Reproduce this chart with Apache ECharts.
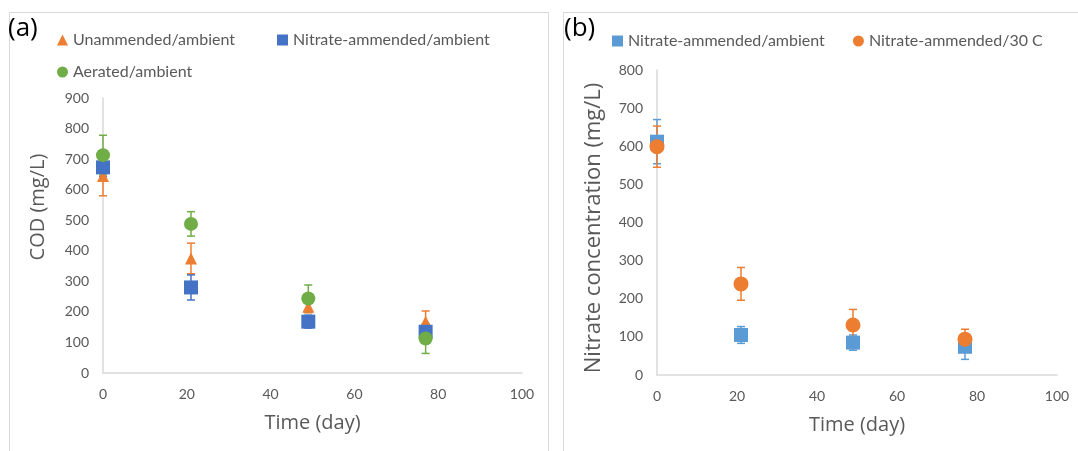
<!DOCTYPE html>
<html>
<head>
<meta charset="utf-8">
<script src="https://cdn.jsdelivr.net/npm/echarts@6/dist/echarts.min.js"></script>
<style>
  html, body { margin: 0; padding: 0; background: #fff; }
  #main { width: 1078px; height: 451px; }
</style>
</head>
<body>
<div id="main"></div>
<script>
// sampling days
const days = [0, 21, 49, 77]
const xTicks = [0, 20, 40, 60, 80, 100]

// (a) COD (mg/L)
const codUnam = [645, 375, 217, 168]
const codUnamErr = [65, 50, 20, 35]
const codNitrate = [673, 280, 168, 135]
const codNitrateErr = [30, 41, 21, 15]
const codAerated = [713, 488, 244, 113]
const codAeratedErr = [65, 40, 44, 49]

// (b) Nitrate concentration (mg/L)
const no3Ambient = [612, 105, 85, 74]
const no3AmbientErr = [58, 22, 20, 33]
const no3Warm = [599, 239, 131, 94]
const no3WarmErr = [54, 43, 41, 26]

const font = 'Lato'
const titleFont = 'Open Sans'
const labelColor = '#595959'
const axisColor = '#d9d9d9'

function pts (vals) {
  return days.map((d, i) => [d, vals[i]])
}
function errPts (vals, errs) {
  return days.map((d, i) => [d, vals[i] - errs[i], vals[i] + errs[i]])
}

// 误差线
function errSeries (name, vals, errs, color, idx) {
  return {
    name: name + ' err',
    type: 'custom',
    xAxisIndex: idx,
    yAxisIndex: idx,
    z: 1,
    silent: true,
    itemStyle: { color: color },
    data: errPts(vals, errs),
    renderItem: function (params, api) {
      const lo = api.coord([api.value(0), api.value(1)])
      const hi = api.coord([api.value(0), api.value(2)])
      const w = 4
      const st = { stroke: color, lineWidth: 1.5 }
      return {
        type: 'group',
        children: [
          { type: 'line', shape: { x1: lo[0], y1: lo[1], x2: hi[0], y2: hi[1] }, style: st },
          { type: 'line', shape: { x1: lo[0] - w, y1: lo[1], x2: lo[0] + w, y2: lo[1] }, style: st },
          { type: 'line', shape: { x1: hi[0] - w, y1: hi[1], x2: hi[0] + w, y2: hi[1] }, style: st }
        ]
      }
    }
  }
}

function dotSeries (name, vals, color, symbol, size, idx) {
  return {
    name: name,
    type: 'scatter',
    xAxisIndex: idx,
    yAxisIndex: idx,
    z: 3,
    symbol: symbol,
    symbolSize: size,
    itemStyle: { color: color, opacity: 1 },
    data: pts(vals)
  }
}

function xAxisOf (idx) {
  return {
    type: 'value',
    gridIndex: idx,
    min: 0,
    max: 100,
    interval: 20,
    name: 'Time (day)',
    nameLocation: 'middle',
    nameGap: 40,
    nameTextStyle: { fontFamily: titleFont, fontSize: 20, color: labelColor },
    axisLine: { show: true, lineStyle: { color: axisColor, width: 1.5 } },
    axisTick: { show: false },
    splitLine: { show: false },
    axisLabel: { fontFamily: font, fontSize: 14, color: labelColor, margin: 14 }
  }
}

function yAxisOf (idx, max) {
  return {
    type: 'value',
    gridIndex: idx,
    min: 0,
    max: max,
    interval: 100,
    axisLine: { show: true, lineStyle: { color: axisColor, width: 1.5 } },
    axisTick: { show: false },
    splitLine: { show: false },
    axisLabel: { fontFamily: font, fontSize: 14, color: labelColor, margin: 14 }
  }
}

const legendText = { fontFamily: font, fontSize: 16, color: labelColor }

const chart = echarts.init(document.getElementById('main'))
chart.setOption({
  animation: false,
  backgroundColor: '#fff',
  graphic: [
    { type: 'rect', shape: { x: 9.5, y: 12.5, width: 539, height: 460 }, style: { fill: 'none', stroke: axisColor, lineWidth: 1 } },
    { type: 'rect', shape: { x: 563.5, y: 12.5, width: 530, height: 460 }, style: { fill: 'none', stroke: axisColor, lineWidth: 1 } },
    { type: 'text', left: 8, top: 16, style: { text: '(a)', font: '26px "Open Sans"', fill: '#000' } },
    { type: 'text', left: 564, top: 16, style: { text: '(b)', font: '26px "Open Sans"', fill: '#000' } },
    // y轴标题
    { type: 'text', x: 38, y: 207, rotation: Math.PI / 2, style: { text: 'COD (mg/L)', font: '20px "Open Sans"', fill: labelColor, align: 'center', verticalAlign: 'middle' } },
    { type: 'text', x: 594, y: 228, rotation: Math.PI / 2, style: { text: 'Nitrate concentration (mg/L)', font: '22px "Open Sans"', fill: labelColor, align: 'center', verticalAlign: 'middle' } }
  ],
  legend: [
    { left: 52, top: 27, itemWidth: 11, itemHeight: 11, itemGap: 42, textStyle: legendText,
      data: [{ name: 'Unammended/ambient', icon: 'triangle' }, { name: 'Nitrate-ammended/ambient', icon: 'rect' }] },
    { left: 52, top: 59, itemWidth: 11, itemHeight: 11, textStyle: legendText,
      data: [{ name: 'Aerated/ambient', icon: 'circle' }] },
    { left: 607, top: 28, itemWidth: 11, itemHeight: 11, itemGap: 24, textStyle: legendText,
      data: [{ name: 'Nitrate-ammended/ambient ', icon: 'rect' }, { name: 'Nitrate-ammended/30 C', icon: 'circle' }] }
  ],
  grid: [
    { left: 103, top: 98, width: 419, height: 275 },
    { left: 657, top: 70, width: 400, height: 305 }
  ],
  xAxis: [xAxisOf(0), xAxisOf(1)],
  yAxis: [yAxisOf(0, 900), yAxisOf(1, 800)],
  series: [
    errSeries('Unammended/ambient', codUnam, codUnamErr, '#ED7D31', 0),
    errSeries('Nitrate-ammended/ambient', codNitrate, codNitrateErr, '#4472C4', 0),
    errSeries('Aerated/ambient', codAerated, codAeratedErr, '#70AD47', 0),
    dotSeries('Unammended/ambient', codUnam, '#ED7D31', 'triangle', 12, 0),
    dotSeries('Nitrate-ammended/ambient', codNitrate, '#4472C4', 'rect', 14, 0),
    dotSeries('Aerated/ambient', codAerated, '#70AD47', 'circle', 14, 0),
    errSeries('Nitrate-ammended/ambient b', no3Ambient, no3AmbientErr, '#5B9BD5', 1),
    errSeries('Nitrate-ammended/30 C', no3Warm, no3WarmErr, '#ED7D31', 1),
    dotSeries('Nitrate-ammended/ambient ', no3Ambient, '#5B9BD5', 'rect', 14, 1),
    dotSeries('Nitrate-ammended/30 C', no3Warm, '#ED7D31', 'circle', 15, 1)
  ]
})
</script>
</body>
</html>
